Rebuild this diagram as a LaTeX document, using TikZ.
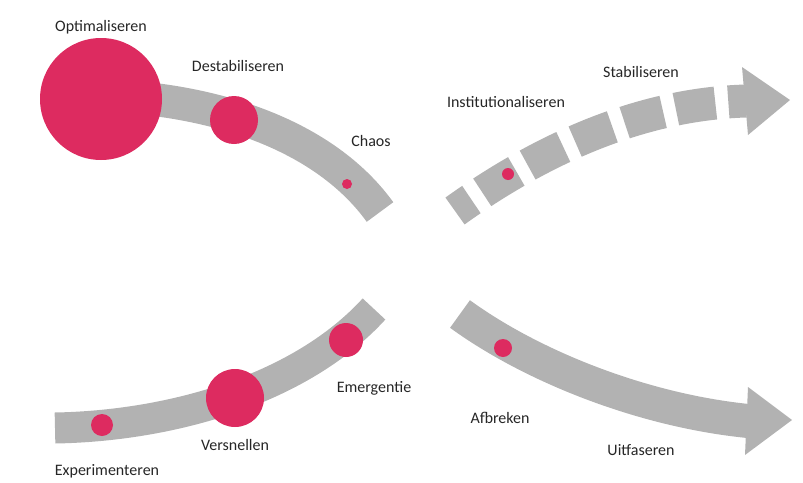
\documentclass[tikz,border=0pt]{standalone}
\usepackage{fontspec}
\setmainfont{Carlito}
\usepackage{tikz}
\usetikzlibrary{positioning}
\definecolor{rasp}{RGB}{221,43,96}
\definecolor{band}{RGB}{178,178,178}
\tikzset{
  stroke/.style={band,line width=#1},
  dot/.style={circle,fill=rasp,inner sep=0pt,minimum size=#1},
  lbl/.style={font=\fontsize{16}{19}\selectfont,text=black!85}
}

\begin{document}
\begin{tikzpicture}[x=1pt,y=-1pt,node distance=3pt]
\useasboundingbox (0,0) rectangle (803,482);
\coordinate (a0) at (130,97);
\coordinate (a1) at (380,212);
\coordinate (b0) at (455,211);
\coordinate (b1) at (746,101);
\coordinate (c0) at (460,314);
\coordinate (c1) at (748,421);
\coordinate (d0) at (55,428);
\coordinate (d1) at (374,309);
\draw[stroke=33] (a0) .. controls (230,105) and (328,140) .. (a1);
\draw[stroke=33,dash pattern=on 40pt off 13pt,dash phase=20pt] (b0) .. controls (540,150) and (640,104) .. (b1);
\fill[band] (742,67) -- (790,100) -- (748,135) -- cycle;
\draw[stroke=34] (c0) .. controls (530,365) and (640,410) .. (c1);
\fill[band] (748,387) -- (792,420) -- (745,455) -- cycle;
\draw[stroke=31] (d0) .. controls (170,426) and (300,390) .. (d1);
\node[dot=122] (opt) at (101,99) {};
\node[dot=48] (destab) at (234,120) {};
\node[dot=10] (chaos) at (347,184) {};
\node[dot=12] (inst) at (508,174) {};
\node[dot=18] (afbr) at (503,348) {};
\node[dot=22] (exp) at (102,425) {};
\node[dot=58] (versn) at (235,398) {};
\node[dot=34] (emerg) at (346,340) {};
\node[lbl,above=0pt of opt] {Optimaliseren};
\node[lbl] at (238,66) {Destabiliseren};
\node[lbl] at (371,141) {Chaos};
\node[lbl] at (506,102) {Institutionaliseren};
\node[lbl] at (641,72) {Stabiliseren};
\node[lbl] at (374,388) {Emergentie};
\node[lbl,below=9pt of versn] {Versnellen};
\node[lbl] at (107,471) {Experimenteren};
\node[lbl] at (500,418) {Afbreken};
\node[lbl] at (641,450) {Uitfaseren};
\end{tikzpicture}
\end{document}
